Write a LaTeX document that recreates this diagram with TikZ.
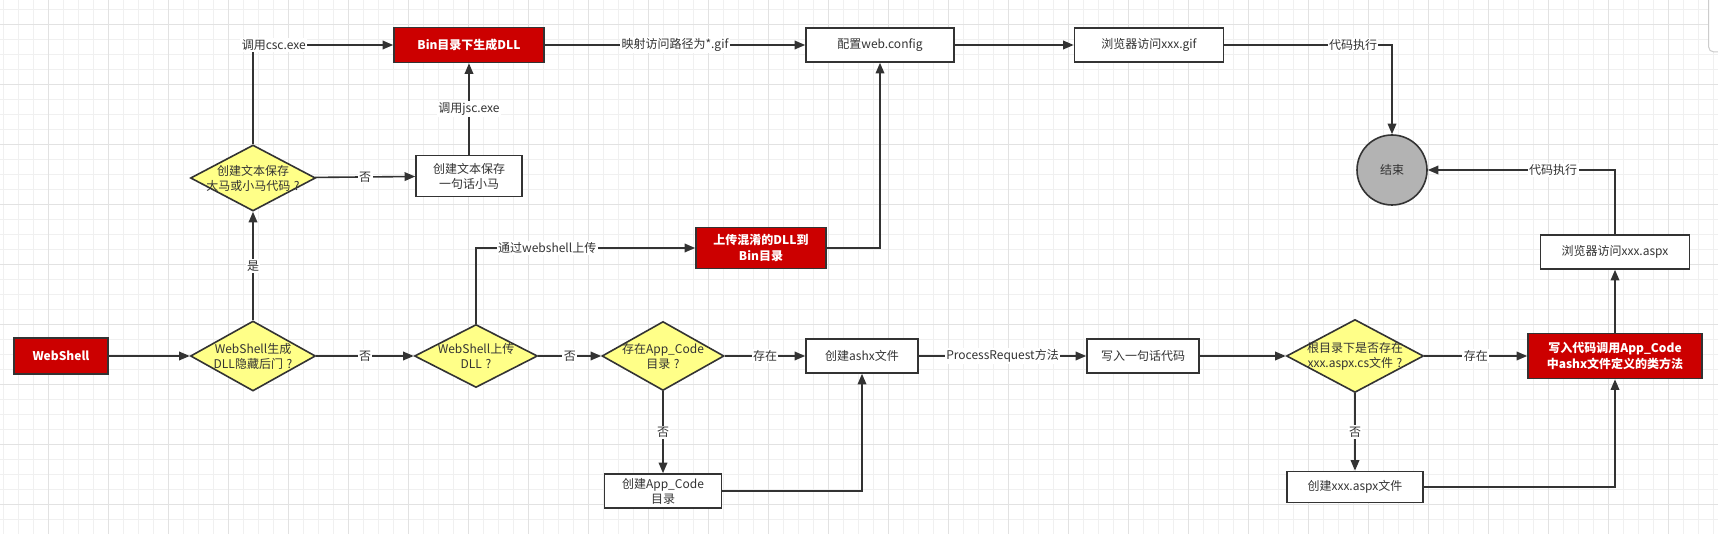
\documentclass[tikz,border=0pt]{standalone}
\usepackage{fontspec}
\setmainfont{Noto Sans CJK SC}
\usepackage{tikz}
\usetikzlibrary{shapes.geometric,arrows.meta}
\definecolor{linec}{HTML}{333333}
\definecolor{textc}{HTML}{333333}
\definecolor{redf}{HTML}{CC0000}
\definecolor{yelf}{HTML}{FFFF88}
\definecolor{greyf}{HTML}{B3B3B3}
\definecolor{minorc}{HTML}{F0F0F0}
\definecolor{majorc}{HTML}{E2E2E2}
\newcommand{\qmark}{\hspace{0.3em}?\hspace{0.2em}}
\begin{document}
\begin{tikzpicture}[x=0.75pt,y=-0.75pt,
  font=\fontsize{9}{11.25}\selectfont,
  box/.style={draw=linec,line width=1.2pt,fill=white,text=textc,inner sep=1pt,align=center},
  redbox/.style={box,fill=redf,text=white,font=\fontsize{9}{11.5}\selectfont\bfseries},
  dia/.style={diamond,draw=linec,line width=1.2pt,fill=yelf,inner sep=0pt},
  dtext/.style={text=textc,align=center,inner sep=0pt},
  edge/.style={draw=linec,line width=1.2pt,-{Triangle[length=8pt,width=6.5pt]}},
  elabel/.style={fill=white,text=textc,inner sep=1pt}]
\useasboundingbox (0,0) rectangle (1718,534);
\fill[white] (0,0) rectangle (1718,534);
\foreach \i in {0,...,114}
\draw[minorc,line width=0.75pt] ({3.3+15*\i},0) -- ({3.3+15*\i},534);
\foreach \j in {0,...,35}
\draw[minorc,line width=0.75pt] (0,{9.3+15*\j}) -- (1718,{9.3+15*\j});
\foreach \i in {0,...,27}
\draw[majorc,line width=0.75pt] ({48.3+60*\i},0) -- ({48.3+60*\i},534);
\foreach \j in {0,...,8}
\draw[majorc,line width=0.75pt] (0,{24.3+60*\j}) -- (1718,{24.3+60*\j});
\draw[gray!40,fill=white,rounded corners=4pt,line width=0.75pt] (1708.5,-10) rectangle (1740,52);

\node[redbox,minimum width=70.5pt,minimum height=27pt] (ws) at (61,356) {WebShell};
\node[dia,minimum width=93.75pt,minimum height=52.5pt] (dq1) at (253,356) {};
\node[dtext] (dq1t) at (dq1) {WebShell生成\\DLL隐藏后门\qmark};
\node[dia,minimum width=93.75pt,minimum height=49.5pt] (dq2) at (253,178) {};
\node[dtext] (dq2t) at (dq2) {创建文本保存\\大马或小马代码\qmark};
\node[box,minimum width=79.5pt,minimum height=30.75pt] (txt) at (469,176) {创建文本保存\\一句话小马};
\node[redbox,minimum width=112.5pt,minimum height=26.25pt] (bindll) at (469,45) {Bin目录下生成DLL};
\node[box,minimum width=111pt,minimum height=25.5pt] (webcfg) at (880,45) {配置web.config};
\node[box,minimum width=111.75pt,minimum height=25.5pt] (gif) at (1149,45) {浏览器访问xxx.gif};
\node[circle,draw=linec,line width=1.2pt,fill=greyf,text=textc,minimum size=52.5pt,inner sep=0pt] (done) at (1392,170) {结束};
\node[dia,minimum width=92.25pt,minimum height=47.25pt] (dq3) at (476,356) {};
\node[dtext] (dq3t) at (dq3) {WebShell上传\\DLL\qmark};
\node[redbox,minimum width=97.5pt,minimum height=30.75pt] (upload) at (761,248) {上传混淆的DLL到\\Bin目录};
\node[dia,minimum width=91.5pt,minimum height=51.75pt] (dq4) at (663,356) {};
\node[dtext] (dq4t) at (dq4) {存在App\_Code\\目录\qmark};
\node[box,minimum width=87.75pt,minimum height=25.5pt] (mkdir) at (663,491) {创建App\_Code\\目录};
\node[box,minimum width=84pt,minimum height=25.5pt] (ashx) at (862,356) {创建ashx文件};
\node[box,minimum width=84pt,minimum height=25.5pt] (write) at (1143,356) {写入一句话代码};
\node[dia,minimum width=102.75pt,minimum height=54.75pt] (dq5) at (1355,356) {};
\node[dtext] (dq5t) at (dq5) {根目录下是否存在\\xxx.aspx.cs文件\qmark};
\node[box,minimum width=102pt,minimum height=23.25pt] (mkaspx) at (1355,487) {创建xxx.aspx文件};
\node[redbox,minimum width=130.5pt,minimum height=33.75pt] (call) at (1615,356) {写入代码调用App\_Code\\中ashx文件定义的类方法};
\node[box,minimum width=111.75pt,minimum height=25.5pt] (aspx) at (1615,252) {浏览器访问xxx.aspx};

\draw[edge] (ws) -- (dq1);
\draw[edge] (dq1) -- node[elabel]{是} (dq2);
\draw[edge] (dq1) -- node[elabel]{否} (dq3);
\draw[edge] (dq2) -- node[elabel]{否} (txt);
\draw[edge] (dq2.north) |- node[elabel,pos=0.574]{调用csc.exe} (bindll.west);
\draw[edge] (txt) -- node[elabel]{调用jsc.exe} (bindll);
\draw[edge] (bindll) -- node[elabel]{映射访问路径为*.gif} (webcfg);
\draw[edge] (webcfg) -- (gif);
\draw[edge] (gif.east) -| node[elabel,pos=0.384]{代码执行} (done.north);
\draw[edge] (dq3.north) |- node[elabel,pos=0.6625]{通过webshell上传} (upload.west);
\draw[edge] (upload.east) -| (webcfg.south);
\draw[edge] (dq3) -- node[elabel]{否} (dq4);
\draw[edge] (dq4) -- node[elabel]{存在} (ashx);
\draw[edge] (dq4) -- node[elabel]{否} (mkdir);
\draw[edge] (mkdir.east) -| (ashx.south);
\draw[edge] (ashx) -- node[elabel]{ProcessRequest方法} (write);
\draw[edge] (write) -- (dq5);
\draw[edge] (dq5) -- node[elabel]{存在} (call);
\draw[edge] (dq5) -- node[elabel]{否} (mkaspx);
\draw[edge] (mkaspx.east) -| (call.south);
\draw[edge] (call) -- (aspx);
\draw[edge] (aspx.north) |- node[elabel,pos=0.665]{代码执行} (done.east);
\end{tikzpicture}
\end{document}
